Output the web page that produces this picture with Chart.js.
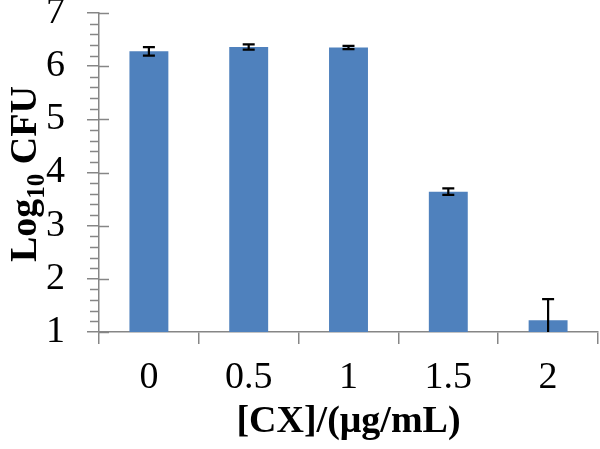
<!DOCTYPE html>
<html>
<head>
<meta charset="utf-8">
<script src="https://cdn.jsdelivr.net/npm/chart.js@4"></script>
<style>
  html, body { margin: 0; padding: 0; background: #fff; }
  #wrap { width: 600px; height: 449px; }
</style>
</head>
<body>
<div id="wrap"><canvas id="cfu"></canvas></div>
<script>
// data
const concLabels = ['0', '0.5', '1', '1.5', '2'];
const logCfu = [6.28, 6.36, 6.35, 3.64, 1.22];
const logCfuErr = [0.08, 0.05, 0.03, 0.06, 0.40];
const yTicks = [1, 2, 3, 4, 5, 6, 7];

const axisGray = '#868686';
const serif = "'Liberation Serif', 'Times New Roman', serif";

// error bars, clipped to the plot area
const errorBars = {
  id: 'errorBars',
  afterDatasetsDraw(chart) {
    const ctx = chart.ctx;
    const y = chart.scales.y;
    const area = chart.chartArea;
    const meta = chart.getDatasetMeta(0);
    ctx.save();
    ctx.beginPath();
    ctx.rect(area.left, area.top - 20, area.right - area.left, area.bottom - area.top + 20);
    ctx.clip();
    ctx.strokeStyle = '#000';
    ctx.lineWidth = 2.2;
    meta.data.forEach(function (bar, i) {
      const hi = y.getPixelForValue(logCfu[i] + logCfuErr[i]);
      const lo = y.getPixelForValue(logCfu[i] - logCfuErr[i]);
      ctx.beginPath();
      ctx.moveTo(bar.x, hi); ctx.lineTo(bar.x, lo);
      ctx.moveTo(bar.x - 6, hi); ctx.lineTo(bar.x + 6, hi);
      ctx.moveTo(bar.x - 6, lo); ctx.lineTo(bar.x + 6, lo);
      ctx.stroke();
    });
    ctx.restore();
  }
};

// minor ticks, inner half of major ticks, axis titles
const axisExtras = {
  id: 'axisExtras',
  afterDraw(chart) {
    const ctx = chart.ctx;
    const y = chart.scales.y;
    const x = chart.scales.x;
    const ax = chart.chartArea.left;
    ctx.save();
    ctx.strokeStyle = axisGray;
    ctx.lineWidth = 1.5;
    ctx.beginPath();
    yTicks.forEach(function (v) {
      const py = Math.round(y.getPixelForValue(v)) + 0.5;
      ctx.moveTo(ax, py); ctx.lineTo(ax + 10, py);
      if (v < 7) {
        for (let k = 1; k < 5; k++) {
          const my = Math.round(y.getPixelForValue(v + k * 0.2)) + 0.5;
          ctx.moveTo(ax - 9, my); ctx.lineTo(ax, my);
        }
      }
    });
    ctx.stroke();

    // x title
    ctx.fillStyle = '#000';
    ctx.font = 'bold 38px ' + serif;
    ctx.textAlign = 'center';
    ctx.textBaseline = 'alphabetic';
    ctx.fillText('[CX]/(\u03bcg/mL)', (x.left + x.right) / 2, 432);

    // y title with subscript
    ctx.translate(36, 174);
    ctx.rotate(-Math.PI / 2);
    ctx.textAlign = 'left';
    const big = 'bold 38px ' + serif;
    const small = 'bold 25px ' + serif;
    ctx.font = big; const w1 = ctx.measureText('Log').width;
    ctx.font = small; const w2 = ctx.measureText('10').width;
    ctx.font = big; const w3 = ctx.measureText(' CFU').width;
    let cx = -(w1 + w2 + w3) / 2;
    ctx.font = big; ctx.fillText('Log', cx, 0); cx += w1;
    ctx.font = small; ctx.fillText('10', cx, 8); cx += w2;
    ctx.font = big; ctx.fillText(' CFU', cx, 0);
    ctx.restore();
  }
};

new Chart(document.getElementById('cfu'), {
  type: 'bar',
  data: {
    labels: concLabels,
    datasets: [{
      data: logCfu,
      backgroundColor: '#4F81BD',
      borderWidth: 0,
      barPercentage: 0.39,
      categoryPercentage: 1.0
    }]
  },
  options: {
    responsive: true,
    maintainAspectRatio: false,
    animation: false,
    events: [],
    layout: { padding: { top: 13, right: 2, left: 0, bottom: 0 } },
    plugins: { legend: { display: false }, tooltip: { enabled: false } },
    scales: {
      x: {
        offset: true,
        grid: { offset: true, drawOnChartArea: false, tickLength: 12, color: axisGray, lineWidth: 1.5 },
        border: { color: axisGray, width: 1.5 },
        ticks: { color: '#000', font: { family: serif, size: 38 }, padding: 11 },
        afterFit: function (s) { s.height = 117; s.paddingLeft = 0; s.paddingRight = 0; }
      },
      y: {
        min: 1,
        max: 7,
        afterBuildTicks: function (s) { s.ticks = yTicks.map(v => ({ value: v })); },
        grid: { drawOnChartArea: false, tickLength: 12, color: axisGray, lineWidth: 1.5 },
        border: { color: axisGray, width: 1.5 },
        ticks: { color: '#000', font: { family: serif, size: 38 }, padding: 22 },
        afterFit: function (s) { s.width = 99; s.paddingTop = 0; s.paddingBottom = 0; }
      }
    }
  },
  plugins: [errorBars, axisExtras]
});
</script>
</body>
</html>
